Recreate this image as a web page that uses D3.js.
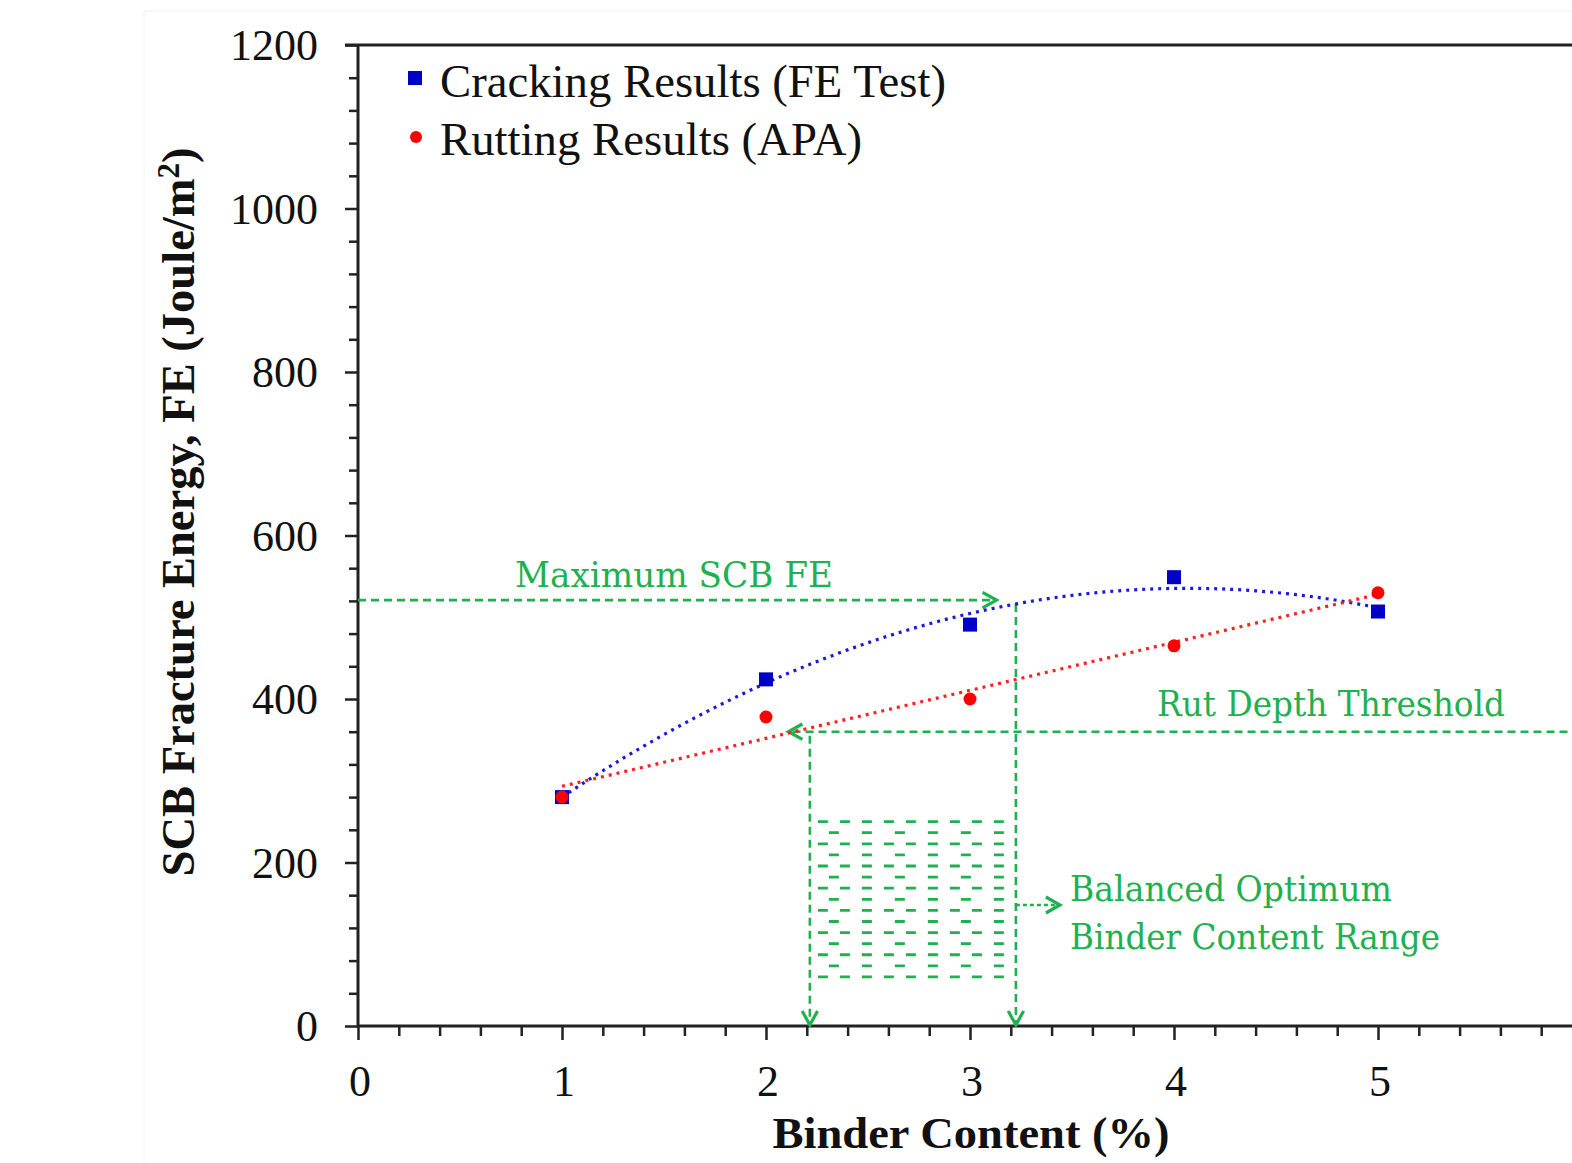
<!DOCTYPE html>
<html>
<head>
<meta charset="utf-8">
<script src="https://cdn.jsdelivr.net/npm/d3@7"></script>
<style>
  body { margin: 0; background: #fff; }
  svg { display: block; }
</style>
</head>
<body>
<script>
// measured values, binder content (%) vs fracture energy
var binder = [1, 2, 3, 4, 5];
var crackingFE = [280, 424, 491, 549, 507];
var ruttingFE = [280, 378, 400, 465, 530];

var xTicks = [0, 1, 2, 3, 4, 5, 6];
var yTicks = [0, 200, 400, 600, 800, 1000, 1200];

// annotation values
var maxFE = 521, maxFEBinder = 3.225;
var rutThreshold = 360, rutBinder = 2.215;
var rangeTop = 250, rangeBottom = 60, rangeLines = 15;

var green = "#1fb050";

var svg = d3.select("body").append("svg")
    .attr("width", 1572)
    .attr("height", 1163);

var x = d3.scaleLinear().domain([0, 6]).range([358, 1582]);
var y = d3.scaleLinear().domain([0, 1200]).range([1026, 45]);

// faint frame of the pasted picture
svg.append("line").attr("x1", 144).attr("x2", 144).attr("y1", 11).attr("y2", 1163)
    .attr("stroke", "#f2f2f2").attr("stroke-width", 1);
svg.append("line").attr("x1", 144).attr("x2", 1572).attr("y1", 11).attr("y2", 11)
    .attr("stroke", "#f2f2f2").attr("stroke-width", 1);

// least squares fit, returns coefficients c0 + c1 x + c2 x^2 ...
function polyfit(xs, ys, deg) {
  var n = deg + 1, A = [], i, j, k;
  for (i = 0; i < n; i++) {
    A.push([]);
    for (j = 0; j < n; j++) A[i].push(d3.sum(xs, function(v) { return Math.pow(v, i + j); }));
    A[i].push(d3.sum(xs, function(v, m) { return Math.pow(v, i) * ys[m]; }));
  }
  for (i = 0; i < n; i++) {
    for (k = i + 1; k < n; k++) {
      var f = A[k][i] / A[i][i];
      for (j = i; j <= n; j++) A[k][j] -= f * A[i][j];
    }
  }
  var c = new Array(n);
  for (i = n - 1; i >= 0; i--) {
    var s = A[i][n];
    for (j = i + 1; j < n; j++) s -= A[i][j] * c[j];
    c[i] = s / A[i][i];
  }
  return c;
}
function evalPoly(c, v) {
  return c.reduce(function(a, b, i) { return a + b * Math.pow(v, i); }, 0);
}

var crackFit = polyfit(binder, crackingFE, 2);
var rutFit = polyfit(binder, ruttingFE, 1);

// axes
var yAxis = d3.axisLeft(y).tickValues(d3.range(0, 1201, 40)).tickFormat("")
    .tickSize(10).tickSizeOuter(0);
var gy = svg.append("g").attr("transform", "translate(358,0)").call(yAxis);
gy.selectAll(".tick line").attr("stroke", "#222").attr("stroke-width", 2.5)
    .attr("x2", function(d) { return d % 200 === 0 ? -13 : -9; });
gy.select(".domain").remove();

var xAxis = d3.axisBottom(x).tickValues(d3.range(0, 6.01, 0.2)).tickFormat("")
    .tickSize(10).tickSizeOuter(0);
var gx = svg.append("g").attr("transform", "translate(0,1026)").call(xAxis);
gx.selectAll(".tick line").attr("stroke", "#222").attr("stroke-width", 2.5)
    .attr("y2", function(d) { return Math.abs(d - Math.round(d)) < 1e-6 ? 14 : 10; });
gx.select(".domain").remove();

svg.append("path")
    .attr("d", "M358," + y(1200) + "V" + y(0) + "H1572")
    .attr("fill", "none").attr("stroke", "#222").attr("stroke-width", 3);
svg.append("line").attr("x1", 345).attr("x2", 1572).attr("y1", y(1200)).attr("y2", y(1200))
    .attr("stroke", "#222").attr("stroke-width", 3);

svg.selectAll(".ylab").data(yTicks).enter().append("text")
    .attr("x", 318).attr("y", function(d) { return y(d) + 15; })
    .attr("text-anchor", "end")
    .attr("font-family", "Liberation Serif").attr("font-size", 44).attr("fill", "#111")
    .text(function(d) { return d; });

svg.selectAll(".xlab").data(xTicks.slice(0, 6)).enter().append("text")
    .attr("x", function(d) { return x(d) + 2; }).attr("y", 1096)
    .attr("text-anchor", "middle")
    .attr("font-family", "Liberation Serif").attr("font-size", 44).attr("fill", "#111")
    .text(function(d) { return d; });

// axis titles
svg.append("text")
    .attr("transform", "translate(194,512) rotate(-90)")
    .attr("text-anchor", "middle")
    .attr("font-family", "Liberation Serif").attr("font-weight", "bold")
    .attr("font-size", 46.5).attr("fill", "#111")
    .call(function(t) {
      t.append("tspan").text("SCB Fracture Energy, FE (Joule/m");
      t.append("tspan").attr("dy", -15).attr("font-size", 31).text("2");
      t.append("tspan").attr("dy", 15).text(")");
    });

svg.append("text")
    .attr("x", 971).attr("y", 1148)
    .attr("text-anchor", "middle")
    .attr("font-family", "Liberation Serif").attr("font-weight", "bold")
    .attr("font-size", 44).attr("fill", "#111")
    .attr("textLength", 397).attr("lengthAdjust", "spacingAndGlyphs")
    .text("Binder Content (%)");

// green annotations
function dashed(x1, y1, x2, y2, dash) {
  return svg.append("line").attr("x1", x1).attr("y1", y1).attr("x2", x2).attr("y2", y2)
      .attr("stroke", green).attr("stroke-width", 2.6)
      .attr("stroke-dasharray", dash || "8,5");
}
function chevron(px, py, dir) {
  var s = 14, pts;
  if (dir === "right") pts = [[px - s, py - s * 0.55], [px, py], [px - s, py + s * 0.55]];
  if (dir === "left") pts = [[px + s, py - s * 0.55], [px, py], [px + s, py + s * 0.55]];
  if (dir === "down") pts = [[px - s * 0.55, py - s], [px, py], [px + s * 0.55, py - s]];
  svg.append("path").attr("d", d3.line()(pts))
      .attr("fill", "none").attr("stroke", green).attr("stroke-width", 3.2)
      .attr("stroke-linejoin", "miter");
}

// maximum SCB FE
dashed(x(0), y(maxFE), x(3.1), y(maxFE));
chevron(x(3.13), y(maxFE), "right");
dashed(x(maxFEBinder), y(maxFE) + 4, x(maxFEBinder), y(0));
chevron(x(maxFEBinder), y(0) - 1, "down");

// rut depth threshold
dashed(x(2.13), y(rutThreshold), 1572, y(rutThreshold));
chevron(x(2.11), y(rutThreshold), "left");
dashed(x(rutBinder), y(rutThreshold) + 4, x(rutBinder), y(0));
chevron(x(rutBinder), y(0) - 1, "down");

// balanced range hatch
var hatch = d3.range(rangeLines).map(function(i) {
  return rangeTop - i * (rangeTop - rangeBottom) / (rangeLines - 1);
});
svg.selectAll(".hatch").data(hatch).enter().append("line")
    .attr("x1", x(rutBinder) + 8).attr("x2", x(maxFEBinder) - 4)
    .attr("y1", function(d) { return y(d); }).attr("y2", function(d) { return y(d); })
    .attr("stroke", green).attr("stroke-width", 2.8)
    .attr("stroke-dasharray", function(d, i) { return i % 2 ? "0,11,10,12" : "10,12"; });

dashed(x(maxFEBinder), y(148), x(maxFEBinder) + 42, y(148), "4,3");
svg.append("path")
    .attr("d", d3.line()([[x(maxFEBinder) + 30, y(148) - 8], [x(maxFEBinder) + 44, y(148)], [x(maxFEBinder) + 30, y(148) + 8]]))
    .attr("fill", "none").attr("stroke", green).attr("stroke-width", 3.2);

function note(tx, ty, len, str) {
  svg.append("text").attr("x", tx).attr("y", ty)
      .attr("font-family", "DejaVu Serif").attr("font-size", 36).attr("fill", green)
      .attr("textLength", len).attr("lengthAdjust", "spacingAndGlyphs")
      .text(str);
}
note(515, 587, 318, "Maximum SCB FE");
note(1157, 716, 348, "Rut Depth Threshold");
note(1070, 901, 322, "Balanced Optimum");
note(1070, 949, 370, "Binder Content Range");

// trend lines
var xs = d3.range(1, 5.001, 0.05);
var line = d3.line()
    .x(function(d) { return x(d[0]); })
    .y(function(d) { return y(d[1]); });

svg.append("path")
    .attr("d", line(xs.map(function(v) { return [v, evalPoly(crackFit, v)]; })))
    .attr("fill", "none").attr("stroke", "#1a1adc").attr("stroke-width", 3.2)
    .attr("stroke-dasharray", "3,5");
svg.append("path")
    .attr("d", line(xs.map(function(v) { return [v, evalPoly(rutFit, v)]; })))
    .attr("fill", "none").attr("stroke", "#ff2020").attr("stroke-width", 3.2)
    .attr("stroke-dasharray", "3,5");

// markers
svg.selectAll(".crack").data(binder).enter().append("rect")
    .attr("x", function(d) { return x(d) - 7; })
    .attr("y", function(d, i) { return y(crackingFE[i]) - 7; })
    .attr("width", 14).attr("height", 14).attr("fill", "#0000c8");
svg.selectAll(".rut").data(binder).enter().append("circle")
    .attr("cx", function(d) { return x(d); })
    .attr("cy", function(d, i) { return y(ruttingFE[i]); })
    .attr("r", 6.5).attr("fill", "#ff0000");

// legend
svg.append("rect").attr("x", 408).attr("y", 71).attr("width", 14).attr("height", 14).attr("fill", "#0000c8");
svg.append("circle").attr("cx", 416).attr("cy", 137).attr("r", 6).attr("fill", "#ff0000");
svg.append("text").attr("x", 440).attr("y", 97)
    .attr("font-family", "Liberation Serif").attr("font-size", 46).attr("fill", "#111")
    .attr("textLength", 506).attr("lengthAdjust", "spacingAndGlyphs")
    .text("Cracking Results (FE Test)");
svg.append("text").attr("x", 440).attr("y", 155)
    .attr("font-family", "Liberation Serif").attr("font-size", 46).attr("fill", "#111")
    .attr("textLength", 422).attr("lengthAdjust", "spacingAndGlyphs")
    .text("Rutting Results (APA)");
</script>
</body>
</html>
